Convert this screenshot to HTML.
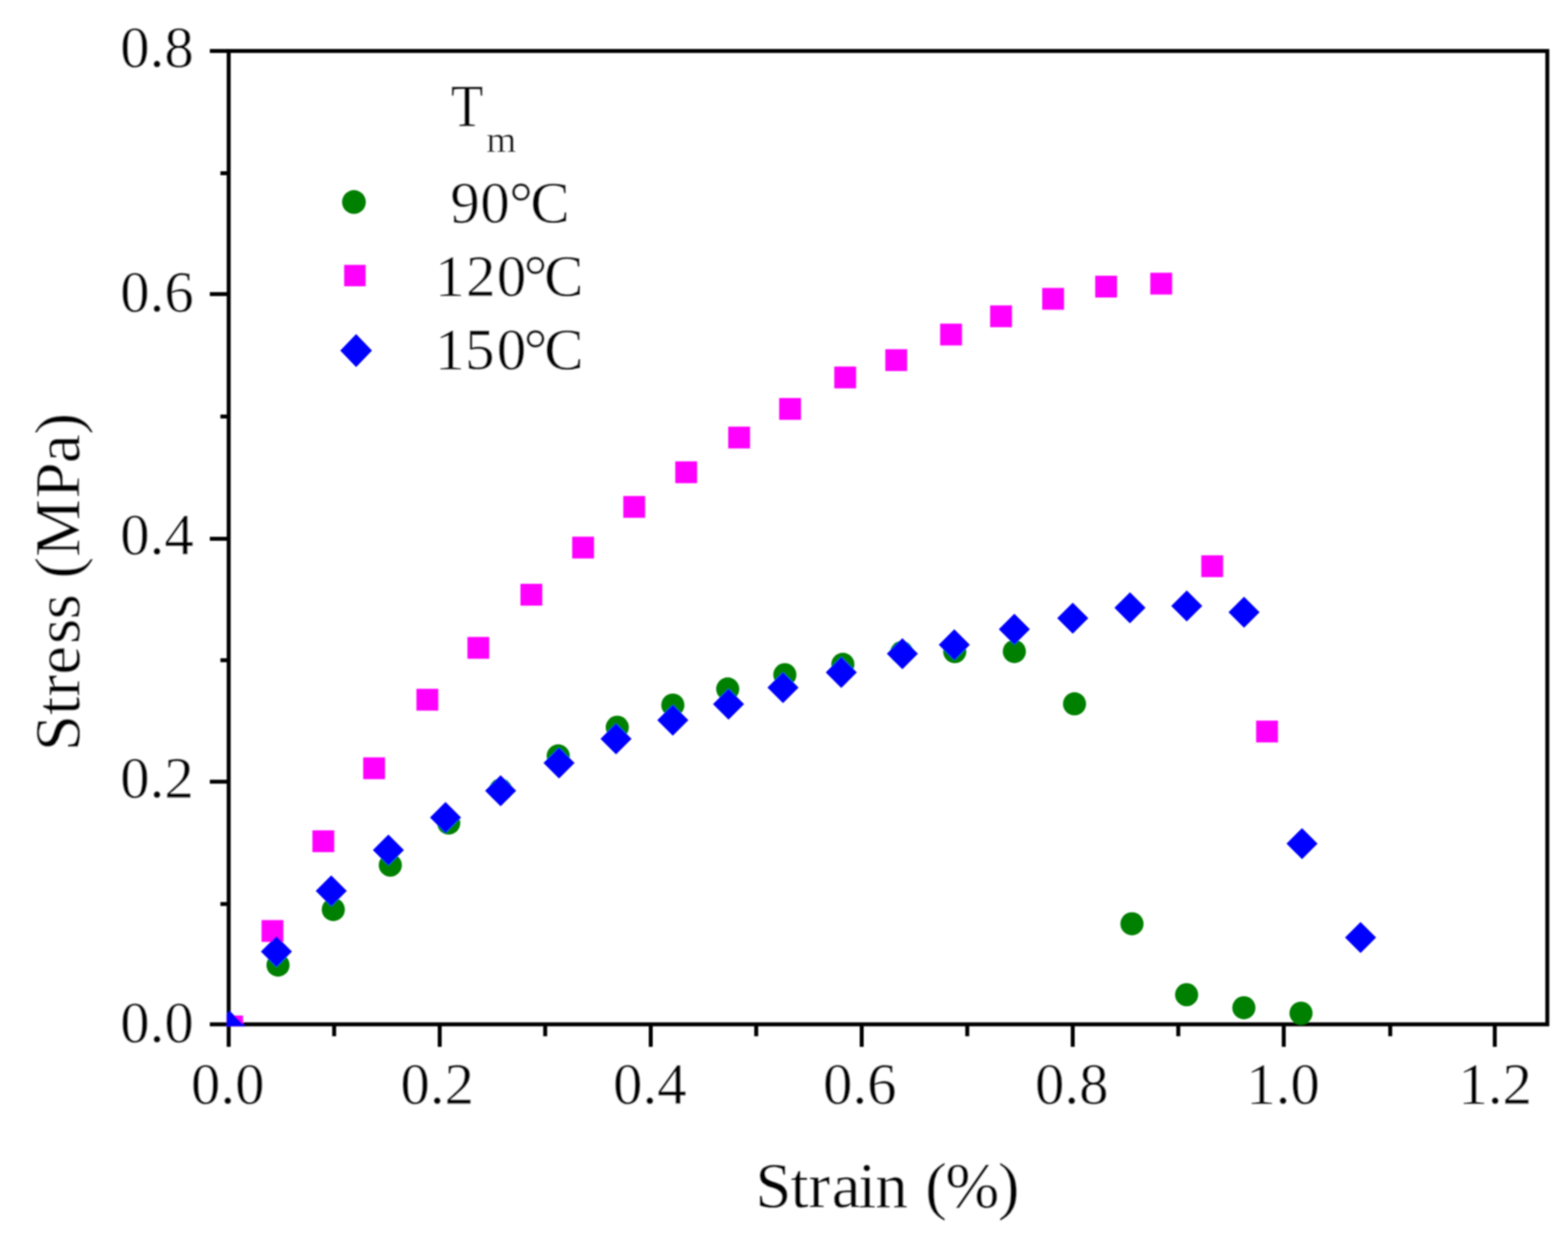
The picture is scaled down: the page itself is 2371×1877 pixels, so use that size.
<!DOCTYPE html>
<html><head><meta charset="utf-8"><title>Stress-Strain</title>
<style>html,body{margin:0;padding:0;background:#fff;overflow:hidden}svg{display:block}</style>
</head><body>
<svg width="2371" height="1877" viewBox="0 0 2371 1877">
<rect width="2371" height="1877" fill="#fff"/>
<defs><filter id="bl" x="0" y="0" width="100%" height="100%" filterUnits="userSpaceOnUse"><feGaussianBlur stdDeviation="0.8"/></filter><clipPath id="pc"><rect x="342.80" y="74.10" width="1999.90" height="1478.20"/></clipPath></defs>
<g filter="url(#bl)">
<g stroke="#000" stroke-width="6.0" stroke-linecap="butt"><line x1="345.8" y1="1549.3" x2="345.8" y2="1583.3"/><line x1="505.3" y1="1549.3" x2="505.3" y2="1567.3"/><line x1="664.9" y1="1549.3" x2="664.9" y2="1583.3"/><line x1="824.4" y1="1549.3" x2="824.4" y2="1567.3"/><line x1="984.0" y1="1549.3" x2="984.0" y2="1583.3"/><line x1="1143.5" y1="1549.3" x2="1143.5" y2="1567.3"/><line x1="1303.0" y1="1549.3" x2="1303.0" y2="1583.3"/><line x1="1462.6" y1="1549.3" x2="1462.6" y2="1567.3"/><line x1="1622.1" y1="1549.3" x2="1622.1" y2="1583.3"/><line x1="1781.7" y1="1549.3" x2="1781.7" y2="1567.3"/><line x1="1941.2" y1="1549.3" x2="1941.2" y2="1583.3"/><line x1="2102.2" y1="1549.3" x2="2102.2" y2="1567.3"/><line x1="2260.3" y1="1549.3" x2="2260.3" y2="1583.3"/><line x1="345.8" y1="1549.3" x2="317.3" y2="1549.3"/><line x1="345.8" y1="1367.3" x2="333.3" y2="1367.3"/><line x1="345.8" y1="1182.3" x2="317.3" y2="1182.3"/><line x1="345.8" y1="998.6" x2="333.3" y2="998.6"/><line x1="345.8" y1="814.9" x2="317.3" y2="814.9"/><line x1="345.8" y1="630.0" x2="333.3" y2="630.0"/><line x1="345.8" y1="444.8" x2="317.3" y2="444.8"/><line x1="345.8" y1="262.0" x2="333.3" y2="262.0"/><line x1="345.8" y1="77.1" x2="317.3" y2="77.1"/></g>
<rect x="345.8" y="77.1" width="1993.9" height="1472.2" fill="none" stroke="#000" stroke-width="6.0"/>
<g clip-path="url(#pc)">
<g fill="#008000"><circle cx="420.4" cy="1459.7" r="17.5"/><circle cx="504.0" cy="1375.7" r="17.5"/><circle cx="590.2" cy="1308.5" r="17.5"/><circle cx="678.5" cy="1244.8" r="17.5"/><circle cx="757.0" cy="1195.0" r="17.5"/><circle cx="844.1" cy="1143.3" r="17.5"/><circle cx="933.4" cy="1100.0" r="17.5"/><circle cx="1017.4" cy="1066.4" r="17.5"/><circle cx="1100.4" cy="1042.1" r="17.5"/><circle cx="1186.8" cy="1020.5" r="17.5"/><circle cx="1274.5" cy="1004.8" r="17.5"/><circle cx="1363.5" cy="987.0" r="17.5"/><circle cx="1443.7" cy="985.6" r="17.5"/><circle cx="1533.8" cy="985.4" r="17.5"/><circle cx="1624.8" cy="1064.6" r="17.5"/><circle cx="1711.7" cy="1397.2" r="17.5"/><circle cx="1794.3" cy="1504.5" r="17.5"/><circle cx="1880.9" cy="1524.2" r="17.5"/><circle cx="1967.3" cy="1532.4" r="17.5"/></g>
<g fill="#ff00ff"><rect x="334.5" y="1536.0" width="33.0" height="33.0"/><rect x="395.5" y="1391.6" width="33.0" height="33.0"/><rect x="472.4" y="1255.9" width="33.0" height="33.0"/><rect x="549.2" y="1145.5" width="33.0" height="33.0"/><rect x="629.7" y="1041.8" width="33.0" height="33.0"/><rect x="706.8" y="963.4" width="33.0" height="33.0"/><rect x="787.0" y="883.0" width="33.0" height="33.0"/><rect x="865.2" y="811.7" width="33.0" height="33.0"/><rect x="942.5" y="750.2" width="33.0" height="33.0"/><rect x="1021.1" y="697.8" width="33.0" height="33.0"/><rect x="1101.1" y="645.3" width="33.0" height="33.0"/><rect x="1178.2" y="602.0" width="33.0" height="33.0"/><rect x="1261.5" y="554.4" width="33.0" height="33.0"/><rect x="1338.7" y="528.2" width="33.0" height="33.0"/><rect x="1421.6" y="489.5" width="33.0" height="33.0"/><rect x="1497.2" y="461.9" width="33.0" height="33.0"/><rect x="1575.9" y="435.5" width="33.0" height="33.0"/><rect x="1656.1" y="417.0" width="33.0" height="33.0"/><rect x="1739.4" y="412.5" width="33.0" height="33.0"/><rect x="1816.5" y="839.9" width="33.0" height="33.0"/><rect x="1899.4" y="1089.9" width="33.0" height="33.0"/></g>
<g fill="#0000ff"><path d="M347.5 1529.0L371.0 1552.5L347.5 1576.0L324.0 1552.5Z"/><path d="M418.0 1415.8L441.5 1439.3L418.0 1462.8L394.5 1439.3Z"/><path d="M500.9 1323.9L524.4 1347.4L500.9 1370.9L477.4 1347.4Z"/><path d="M587.3 1262.2L610.8 1285.7L587.3 1309.2L563.8 1285.7Z"/><path d="M673.7 1212.9L697.2 1236.4L673.7 1259.9L650.2 1236.4Z"/><path d="M757.0 1172.5L780.5 1196.0L757.0 1219.5L733.5 1196.0Z"/><path d="M845.3 1130.6L868.8 1154.1L845.3 1177.6L821.8 1154.1Z"/><path d="M931.5 1094.1L955.0 1117.6L931.5 1141.1L908.0 1117.6Z"/><path d="M1017.4 1065.8L1040.9 1089.3L1017.4 1112.8L993.9 1089.3Z"/><path d="M1101.6 1041.4L1125.1 1064.9L1101.6 1088.4L1078.1 1064.9Z"/><path d="M1184.0 1016.4L1207.5 1039.9L1184.0 1063.4L1160.5 1039.9Z"/><path d="M1272.1 993.6L1295.6 1017.1L1272.1 1040.6L1248.6 1017.1Z"/><path d="M1364.5 965.3L1388.0 988.8L1364.5 1012.3L1341.0 988.8Z"/><path d="M1443.0 951.8L1466.5 975.3L1443.0 998.8L1419.5 975.3Z"/><path d="M1533.8 928.2L1557.3 951.7L1533.8 975.2L1510.3 951.7Z"/><path d="M1622.1 911.4L1645.6 934.9L1622.1 958.4L1598.6 934.9Z"/><path d="M1708.6 895.8L1732.1 919.3L1708.6 942.8L1685.1 919.3Z"/><path d="M1794.5 892.9L1818.0 916.4L1794.5 939.9L1771.0 916.4Z"/><path d="M1881.1 902.4L1904.6 925.9L1881.1 949.4L1857.6 925.9Z"/><path d="M1968.8 1252.5L1992.3 1276.0L1968.8 1299.5L1945.3 1276.0Z"/><path d="M2057.3 1394.6L2080.8 1418.1L2057.3 1441.6L2033.8 1418.1Z"/></g>
</g>
<g font-family="'Liberation Serif', 'Times New Roman', serif" font-size="89" fill="#000" stroke="#fff" stroke-width="0.4"><text x="344.4" y="1669" text-anchor="middle">0.0</text><text x="661.1" y="1669" text-anchor="middle">0.2</text><text x="982.7" y="1669" text-anchor="middle">0.4</text><text x="1300.0" y="1669" text-anchor="middle">0.6</text><text x="1620.5" y="1669" text-anchor="middle">0.8</text><text x="1940.1" y="1669" text-anchor="middle">1.0</text><text x="2260.8" y="1669" text-anchor="middle">1.2</text><text x="293" y="1576.1" text-anchor="end">0.0</text><text x="293" y="1206.1" text-anchor="end">0.2</text><text x="293" y="838.2" text-anchor="end">0.4</text><text x="293" y="470.8" text-anchor="end">0.6</text><text x="293" y="100.7" text-anchor="end">0.8</text></g>
<g font-family="'Liberation Serif', 'Times New Roman', serif" fill="#000" stroke="#fff" stroke-width="0.4">
<text x="1142.2 1195.5 1222.4 1257.8 1297.8 1323.7 1372.7 1399.1 1429.4 1508.9" y="1826" font-size="98">Strain (%)</text>
<g transform="rotate(-90)"><text x="-1135.9 -1081.2 -1053.5 -1020.5 -974.0 -936.8 -898.7 -874.9 -842.2 -753.8 -700.4 -657.3" y="119.5" font-size="98">Stress (MPa)</text></g>
</g>
<g font-family="'Liberation Serif', 'Times New Roman', serif" fill="#000" stroke="#fff" stroke-width="0.4"><text x="681.7" y="191.3" font-size="90" textLength="49" lengthAdjust="spacingAndGlyphs">T</text><text x="735.4" y="229.8" font-size="58">m</text><text x="681.0 726.2 770.1 802.0" y="335.6" font-size="89">90°C</text><text x="658.1 704.8 751.3 792.0 822.8" y="446.5" font-size="89">120°C</text><text x="658.1 703.3 751.3 792.0 823.0" y="557.7" font-size="89">150°C</text></g>
<g fill="#008000"><circle cx="535.2" cy="305.6" r="18"/></g>
<g fill="#ff00ff"><rect x="520.4" y="400.6" width="32.4" height="32.4"/></g>
<g fill="#0000ff"><path d="M538.5 505.3L562.5 530.3L538.5 555.3L514.5 530.3Z"/></g>
</g>
</svg>
</body></html>
